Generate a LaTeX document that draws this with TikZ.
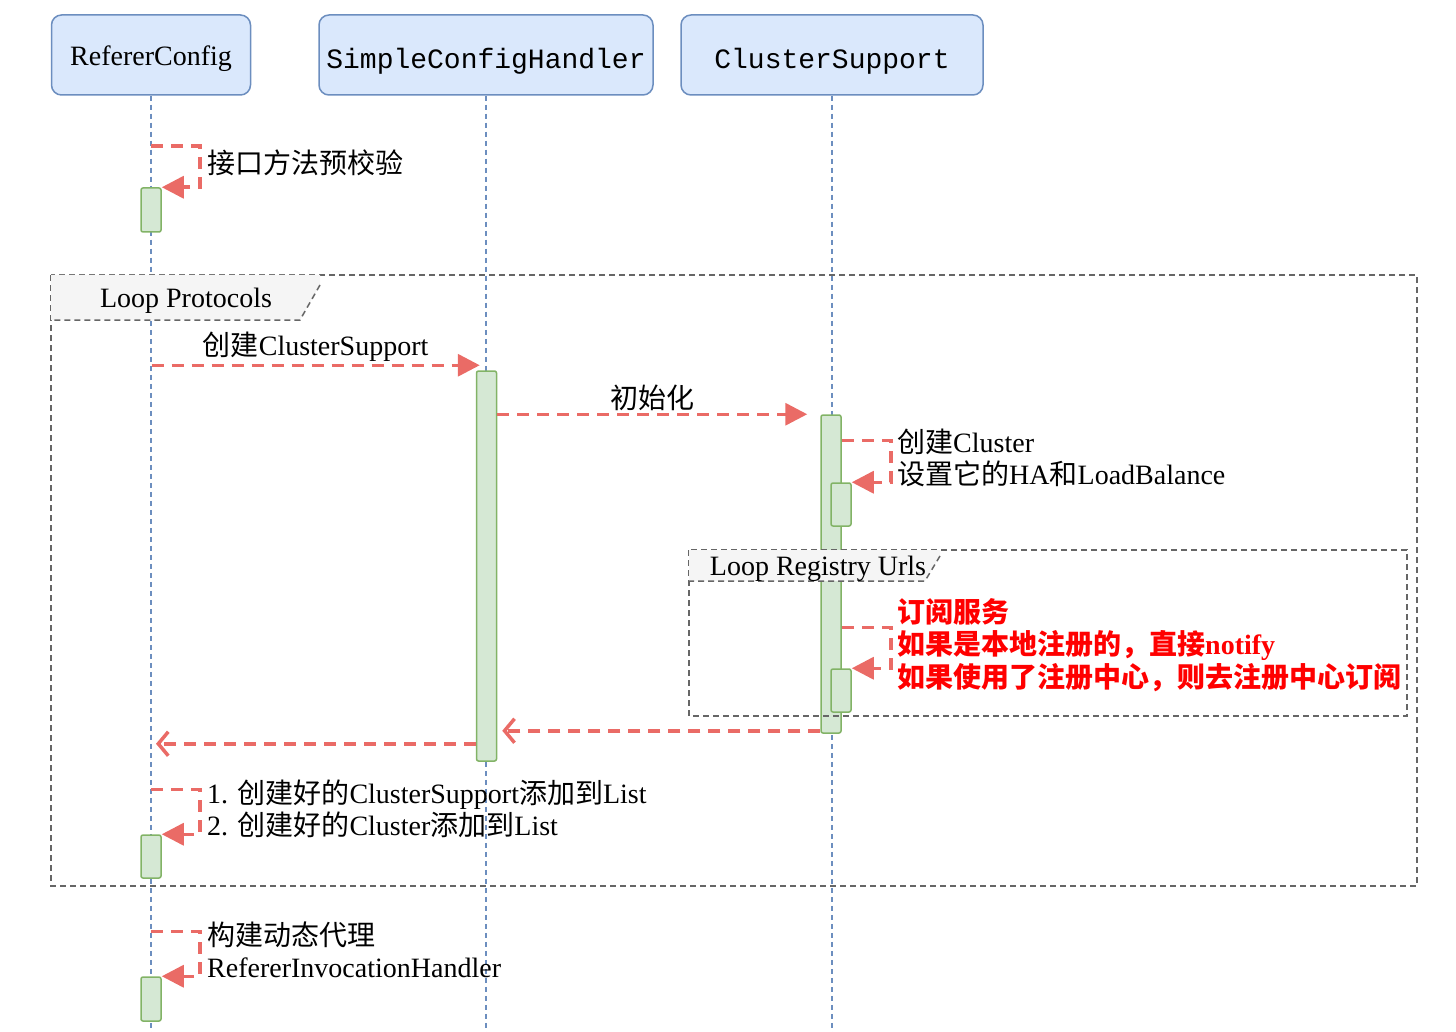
\documentclass[tikz,border=0pt]{standalone}
\usepackage{fontspec}
\setmainfont{Liberation Serif}
\setmonofont{Liberation Mono}
\newfontfamily\cjk{Noto Sans CJK SC}
\newcommand{\zh}[1]{{\cjk #1}}
\usetikzlibrary{arrows.meta, positioning, calc}
\definecolor{headFill}{HTML}{DAE8FC}
\definecolor{headLine}{HTML}{6C8EBF}
\definecolor{actFill}{HTML}{D5E8D4}
\definecolor{actLine}{HTML}{82B366}
\definecolor{msgRed}{HTML}{EA6B66}
\definecolor{frameGray}{HTML}{666666}
\definecolor{tabFill}{HTML}{F5F5F5}

\begin{document}
\begin{tikzpicture}[x=1pt, y=-1pt,
  head/.style={draw=headLine, fill=headFill, line width=1.5pt, rounded corners=10pt,
    minimum height=80pt, inner sep=0pt, text height=27pt, text depth=6pt,
    font=\fontsize{28}{32}\selectfont},
  life/.style={draw=headLine, line width=1.2pt, dash pattern=on 5pt off 4pt},
  act/.style={draw=actLine, fill=actFill, line width=1.5pt, rounded corners=2pt,
    minimum width=20pt, inner sep=0pt},
  msg/.style={draw=msgRed, line width=3.5pt, dash pattern=on 12pt off 8pt,
    -{Triangle[length=22pt,width=22pt]}},
  ret/.style={draw=msgRed, line width=3.5pt, dash pattern=on 12pt off 8pt,
    -{Straight Barb[length=10pt,width=24pt]}},
  frame/.style={draw=frameGray, line width=1.5pt, dash pattern=on 6pt off 4pt},
  tab/.style={fill=tabFill},
  note/.style={font=\fontsize{28}{32}\selectfont, align=left, inner sep=0pt, anchor=west},
  title/.style={font=\fontsize{28}{32}\selectfont, inner sep=0pt}
]
  \useasboundingbox (0,0) rectangle (1456,1032);

  % Participants
  \node[head, minimum width=199pt] (rc) at (151,55) {RefererConfig};
  \node[head, minimum width=334pt, text height=33pt] (sch) at (486,55) {\texttt{SimpleConfigHandler}};
  \node[head, minimum width=302pt, text height=33pt] (cs) at (832,55) {\texttt{ClusterSupport}};

  % Lifelines
  \draw[life] (rc.south) -- (rc.south |- 0,1032);
  \draw[life] (sch.south) -- (sch.south |- 0,1032);
  \draw[life] (cs.south) -- (cs.south |- 0,1032);

  % Loop Protocols
  \draw[frame] (51,275) rectangle (1417,886);
  \path[tab] (51,275) -- (320,275) -- (320,285) -- (300,320) -- (51,320) -- cycle;
  \draw[frame] (320,285) -- (300,320) -- (51,320);
  \node[title] (lp) at (186,301) {Loop Protocols};

  % Activations
  \node[act, minimum height=390pt] (sch1) at (486.5,566) {};
  \node[act, minimum height=318pt] (cs1) at (831,574) {};

  % Loop Registry Urls
  \draw[frame] (689,550) rectangle (1407,716);
  \path[tab] (689,550) -- (940,550) -- (940,556) -- (925,581) -- (689,581) -- cycle;
  \draw[frame] (940,556) -- (925,581) -- (689,581);
  \node[title] (lr) at (818,569) {Loop Registry Urls};

  \node[act, minimum height=43pt] (cs2) at (841,504.5) {};
  \node[act, minimum height=43pt] (cs3) at (841,690.5) {};
  \node[act, minimum height=44pt] (a1) at (151,210) {};
  \node[act, minimum height=43pt] (a2) at (151,856.5) {};
  \node[act, minimum height=44pt] (a3) at (151,999) {};

  % Messages
  \draw[msg] ($(a1.north)+(0,-41)$) -- ++(49,0) |- (a1.north east);
  \node[note] (m1) at (207,163) {\zh{接口方法预校验}};

  \draw[msg] ($(sch1.north)+(-335,-5)$) -- node[above=2pt, title] (m2) {\zh{创建}ClusterSupport} ($(sch1.north west)+(4,-5)$);
  \draw[msg] (sch1.east |- cs1.north) -- node[above=2pt, title] (m3) {\zh{初始化}} ($(cs1.north west)+(-13,0)$);

  \draw[msg] ($(cs1.north east)+(0,26)$) -- ++(49,0) |- (cs2.north east);
  \node[note] (m4) at (897,458) {\zh{创建}Cluster\\\zh{设置它的}HA\zh{和}LoadBalance};

  \draw[msg] ($(cs1.north east)+(0,213)$) -- ++(49,0) |- (cs3.north east);
  \node[note, text=red, font=\fontsize{28}{32.5}\selectfont\bfseries] (m5) at (897,645)
    {\zh{订阅服务}\\\zh{如果是本地注册的，直接}notify\\\zh{如果使用了注册中心，则去注册中心订阅}};

  % Returns
  \draw[ret] ($(cs1.south west)+(0,-3)$) -- ($(sch1.east |- cs1.south)+(5,-3)$);
  \draw[ret] ($(sch1.south west)+(0,-18)$) -- ($(a1.north |- sch1.south)+(5,-18)$);

  \draw[msg] ($(a2.north)+(0,-45)$) -- ++(49,0) |- (a2.north east);
  \node[note] (m6) at (207,809) {1. \zh{创建好的}ClusterSupport\zh{添加到}List\\2. \zh{创建好的}Cluster\zh{添加到}List};

  \draw[msg] ($(a3.north)+(0,-45)$) -- ++(49,0) |- (a3.north east);
  \node[note] (m7) at (207,950) {\zh{构建动态代理}\\RefererInvocationHandler};
\end{tikzpicture}
\end{document}
